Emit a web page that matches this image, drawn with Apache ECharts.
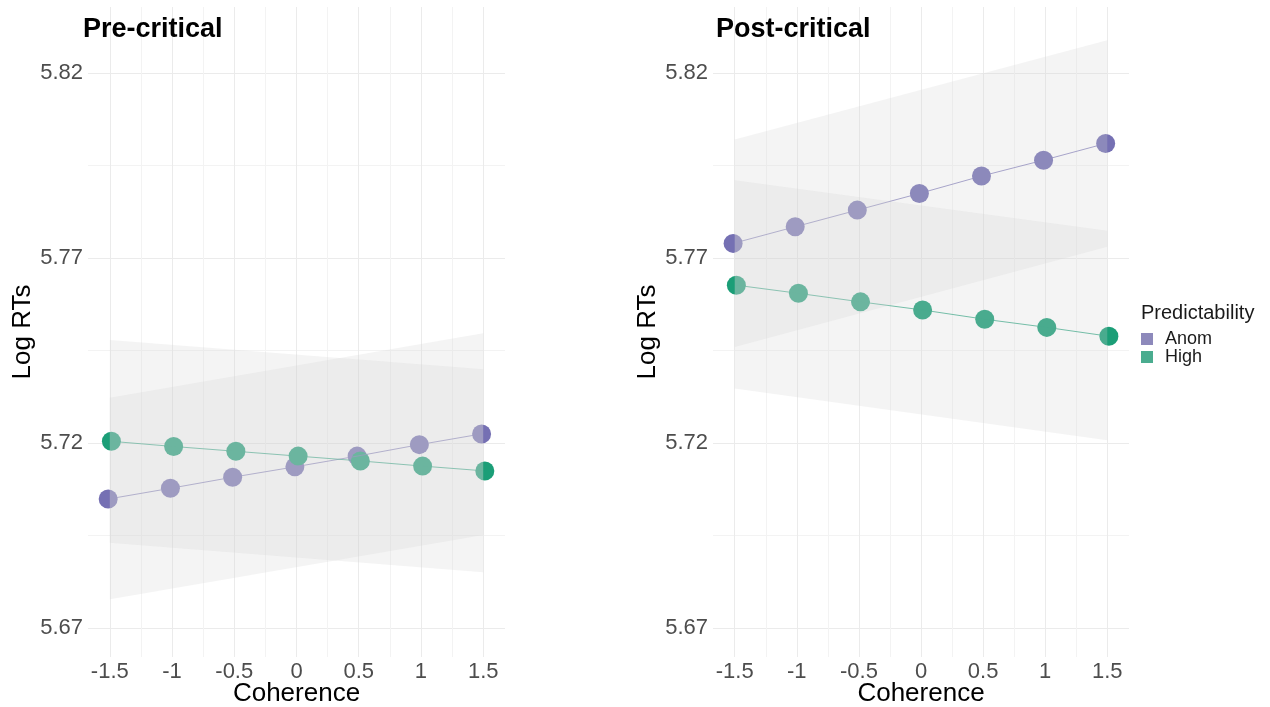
<!DOCTYPE html>
<html>
<head>
<meta charset="utf-8">
<title>Log RTs by Coherence</title>
<script src="https://cdn.jsdelivr.net/npm/echarts@6/dist/echarts.min.js"></script>
<style>
  html, body { margin: 0; padding: 0; background: #ffffff; }
  #chart { width: 1270px; height: 707px; }
</style>
</head>
<body>
<div id="chart"></div>
<script>
// Coherence levels (x) and predicted log RTs per predictability condition
const coherence = [-1.5, -1, -0.5, 0, 0.5, 1, 1.5];
const preAnom  = [5.7048, 5.7077, 5.7107, 5.7135, 5.7164, 5.7195, 5.7224];
const preHigh  = [5.7204, 5.7190, 5.7177, 5.7164, 5.7151, 5.7137, 5.7124];
const postAnom = [5.7739, 5.7784, 5.7829, 5.7874, 5.7921, 5.7964, 5.8009];
const postHigh = [5.7626, 5.7604, 5.7581, 5.7559, 5.7534, 5.7512, 5.7488];

// Confidence bands, given at the ends of the coherence range
const bandX = [-1.5, 1.5];
const preAnomLow   = [5.6777, 5.6951];
const preAnomHigh  = [5.7322, 5.7496];
const preHighLow   = [5.6930, 5.6850];
const preHighHigh  = [5.7478, 5.7399];
const postAnomLow  = [5.7459, 5.7730];
const postAnomHigh = [5.8020, 5.8288];
const postHighLow  = [5.7347, 5.7207];
const postHighHigh = [5.7910, 5.7773];

// Axis breaks
const xBreaks = [-1.5, -1, -0.5, 0, 0.5, 1, 1.5];
const xMinorBreaks = [-1.25, -0.75, -0.25, 0.25, 0.75, 1.25];
const yBreaks = [5.67, 5.72, 5.77, 5.82];
const yMinorBreaks = [5.695, 5.745, 5.795];

const panelTitles = ['Pre-critical', 'Post-critical'];
const groups = ['Anom', 'High'];
const legendTitle = 'Predictability';

const FONT = "'Liberation Sans', Arial, Helvetica, sans-serif";
const COLORS = { Anom: '#7570b3', High: '#1b9e77' };
const KEY_COLORS = { Anom: '#8d89bb', High: '#4aac8f' };
const BAND_FILL = 'rgba(212,212,212,0.25)';
const DODGE = 0.013;
const X_RANGE = [-1.675, 1.675];
const Y_RANGE = [5.6621, 5.8378];

const grids = [
  { left: 88, top: 7, width: 417, height: 650, containLabel: false, outerBoundsMode: 'none' },
  { left: 713, top: 7, width: 416, height: 650, containLabel: false, outerBoundsMode: 'none' }
];

function fmtX(v) { return String(Math.round(v * 100) / 100); }

const xAxes = [], yAxes = [];
grids.forEach(function (g, gi) {
  // main axes: labels and major grid lines
  xAxes.push({
    type: 'value', gridIndex: gi, min: X_RANGE[0], max: X_RANGE[1],
    name: 'Coherence', nameLocation: 'middle', nameGap: 24, nameMoveOverlap: false,
    nameTextStyle: { fontFamily: FONT, fontSize: 26, color: '#000000' },
    axisLine: { show: false },
    axisTick: { show: false, customValues: xBreaks },
    axisLabel: { customValues: xBreaks, formatter: fmtX, margin: 4,
      fontFamily: FONT, fontSize: 22, color: '#4d4d4d' },
    splitLine: { show: true, lineStyle: { color: '#ebebeb', width: 1 } }
  });
  yAxes.push({
    type: 'value', gridIndex: gi, min: Y_RANGE[0], max: Y_RANGE[1],
    name: 'Log RTs', nameLocation: 'middle', nameGap: 52, nameRotate: 90, nameMoveOverlap: false,
    nameTextStyle: { fontFamily: FONT, fontSize: 26, color: '#000000' },
    axisLine: { show: false },
    axisTick: { show: false, customValues: yBreaks },
    axisLabel: { customValues: yBreaks, formatter: function (v) { return v.toFixed(2); },
      margin: 5, fontFamily: FONT, fontSize: 22, color: '#4d4d4d' },
    splitLine: { show: true, lineStyle: { color: '#ebebeb', width: 1 } }
  });
});
grids.forEach(function (g, gi) {
  // companion axes: minor grid lines only
  xAxes.push({
    type: 'value', gridIndex: gi, min: X_RANGE[0], max: X_RANGE[1],
    axisLine: { show: false }, axisLabel: { show: false },
    axisTick: { show: false, customValues: xMinorBreaks },
    splitLine: { show: true, lineStyle: { color: '#f3f3f3', width: 1 } }
  });
  yAxes.push({
    type: 'value', gridIndex: gi, min: Y_RANGE[0], max: Y_RANGE[1],
    axisLine: { show: false }, axisLabel: { show: false },
    axisTick: { show: false, customValues: yMinorBreaks },
    splitLine: { show: true, lineStyle: { color: '#f3f3f3', width: 1 } }
  });
});

function dodged(values, shift) {
  return coherence.map(function (c, i) { return [c + shift, values[i]]; });
}

function bandSeries(gi, low, high) {
  return {
    type: 'custom', xAxisIndex: gi, yAxisIndex: gi, z: 4, silent: true,
    data: bandX.map(function (x, i) { return [x, low[i], high[i]]; }),
    renderItem: function (params, api) {
      const i = params.dataIndex;
      if (i >= bandX.length - 1) return null;
      const pts = [
        api.coord([bandX[i], high[i]]),
        api.coord([bandX[i + 1], high[i + 1]]),
        api.coord([bandX[i + 1], low[i + 1]]),
        api.coord([bandX[i], low[i]])
      ];
      return { type: 'polygon', shape: { points: pts }, style: { fill: BAND_FILL } };
    }
  };
}

const panels = [
  { anom: preAnom, high: preHigh,
    bands: [[preAnomLow, preAnomHigh], [preHighLow, preHighHigh]] },
  { anom: postAnom, high: postHigh,
    bands: [[postAnomLow, postAnomHigh], [postHighLow, postHighHigh]] }
];

const series = [];
panels.forEach(function (p, gi) {
  [['Anom', p.anom, -DODGE], ['High', p.high, DODGE]].forEach(function (s) {
    series.push({
      name: s[0], type: 'scatter', xAxisIndex: gi, yAxisIndex: gi, z: 2,
      symbol: 'circle', symbolSize: 19, data: dodged(s[1], s[2]),
      itemStyle: { color: COLORS[s[0]], opacity: 1 }
    });
  });
  [['Anom', p.anom, -DODGE], ['High', p.high, DODGE]].forEach(function (s) {
    series.push({
      name: s[0], type: 'line', xAxisIndex: gi, yAxisIndex: gi, z: 3,
      showSymbol: false, symbol: 'none', data: dodged(s[1], s[2]),
      lineStyle: { color: COLORS[s[0]], width: 1, opacity: 0.75 }
    });
  });
  p.bands.forEach(function (b) { series.push(bandSeries(gi, b[0], b[1])); });
});

const chart = echarts.init(document.getElementById('chart'), null, { renderer: 'canvas' });
chart.setOption({
  animation: false,
  backgroundColor: '#ffffff',
  textStyle: { fontFamily: FONT },
  title: [
    { text: panelTitles[0], left: 78, top: 11,
      textStyle: { fontFamily: FONT, fontSize: 27, fontWeight: 'bold', color: '#000000' } },
    { text: panelTitles[1], left: 711, top: 11,
      textStyle: { fontFamily: FONT, fontSize: 27, fontWeight: 'bold', color: '#000000' } },
    { text: legendTitle, left: 1136, top: 298,
      textStyle: { fontFamily: FONT, fontSize: 20, fontWeight: 'normal', color: '#1a1a1a' } }
  ],
  legend: {
    orient: 'vertical', left: 1141, top: 330, icon: 'rect',
    itemWidth: 12, itemHeight: 12, itemGap: 0, padding: 0,
    selectedMode: false,
    data: groups.map(function (g) { return { name: g, itemStyle: { color: KEY_COLORS[g] } }; }),
    textStyle: { fontFamily: FONT, fontSize: 18, color: '#1a1a1a', lineHeight: 18,
      padding: [0, 0, 0, 7] }
  },
  grid: grids,
  xAxis: xAxes,
  yAxis: yAxes,
  series: series
});
</script>
</body>
</html>
